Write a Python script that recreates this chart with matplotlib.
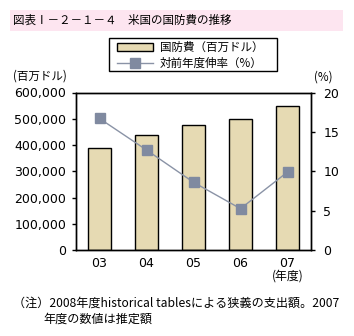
import matplotlib
matplotlib.use("Agg")
import matplotlib.pyplot as plt
from matplotlib.patches import Rectangle
from matplotlib.lines import Line2D

plt.rcParams['font.family'] = ['Noto Sans CJK JP', 'DejaVu Sans']

# Data
years = ["03", "04", "05", "06", "07"]
defense = [388000, 438000, 477000, 499000, 549000]
growth = [16.7, 12.7, 8.6, 5.25, 9.9]
left_ticks = [0, 100000, 200000, 300000, 400000, 500000, 600000]
left_labels = ["0", "100,000", "200,000", "300,000", "400,000", "500,000", "600,000"]
right_ticks = [0, 5, 10, 15, 20]
right_labels = ["0", "5", "10", "15", "20"]
legend_labels = ["国防費（百万ドル）", "対前年度伸率（%）"]

W, H = 354, 336
fig = plt.figure(figsize=(W / 100, H / 100), dpi=100)

def fx(x): return x / W
def fy(y): return 1 - y / H

bar_color = "#E6DAB3"
line_color = "#8A93A6"
marker_color = "#808AA0"
fs = 8.3
num_font = dict(family="DejaVu Sans", size=9)

# Title band
fig.patches.append(Rectangle((fx(10), fy(31)), fx(343) - fx(10), fy(10) - fy(31),
                             transform=fig.transFigure, facecolor="#FDE5F0",
                             edgecolor="none", zorder=0))
fig.text(fx(13), fy(20.5), "図表Ⅰ－２－１－４　米国の国防費の推移", fontsize=fs,
         va="center", ha="left")

ax = fig.add_axes([fx(76), fy(250), fx(311) - fx(76), fy(92.5) - fy(250)])
x = list(range(len(years)))
ax.bar(x, defense, width=0.51, color=bar_color, edgecolor="black",
       linewidth=1.0, zorder=2)
ax.set_xlim(-0.5, len(years) - 0.5)
ax.set_ylim(0, 600000)
ax.set_yticks(left_ticks)
ax.set_yticklabels(left_labels, fontdict=num_font)
ax.set_xticks(x)
ax.set_xticklabels(years, fontdict=num_font)
ax.tick_params(axis="x", length=0, pad=5)
ax.tick_params(axis="y", direction="out", length=3, width=1, pad=4)
for s in ax.spines.values():
    s.set_linewidth(1.0)
    s.set_color("black")

ax2 = ax.twinx()
ax2.plot(x, growth, color=line_color, linewidth=1.0, marker="s",
         markersize=6.5, markerfacecolor=marker_color,
         markeredgecolor=marker_color, zorder=3)
ax2.set_ylim(0, 20)
ax2.set_yticks(right_ticks)
ax2.set_yticklabels(right_labels, fontdict=num_font)
ax2.tick_params(axis="y", direction="out", length=3, width=1, pad=6)
for s in ax2.spines.values():
    s.set_linewidth(1.0)

# Axis unit labels
fig.text(fx(13), fy(76), "(百万ドル)", fontsize=fs, va="center", ha="left")
fig.text(fx(323), fy(77), "(%)", fontsize=fs, va="center", ha="center")
fig.text(fx(287.5), fy(276), "(年度)", fontsize=8.6, va="center", ha="center")

# Legend (manual frame, handles and labels)
fig.patches.append(Rectangle((fx(109), fy(71)), fx(277) - fx(109), fy(38) - fy(71),
                             transform=fig.transFigure, facecolor="white",
                             edgecolor="black", linewidth=1.0, zorder=5))
fig.patches.append(Rectangle((fx(117), fy(51)), fx(153) - fx(117), fy(43) - fy(51),
                             transform=fig.transFigure, facecolor=bar_color,
                             edgecolor="black", linewidth=1.0, zorder=6))
fig.lines.append(Line2D([fx(117), fx(153)], [fy(63), fy(63)], transform=fig.transFigure,
                        color=line_color, linewidth=1.0, zorder=6))
fig.lines.append(Line2D([fx(135)], [fy(63)], transform=fig.transFigure, marker="s",
                        markersize=6.5, color=marker_color, linestyle="none", zorder=7))
fig.text(fx(160), fy(47), legend_labels[0], fontsize=fs, va="center", ha="left", zorder=7)
fig.text(fx(160), fy(63), legend_labels[1], fontsize=fs, va="center", ha="left", zorder=7)

# Note
fig.text(fx(13), fy(303), "（注）2008年度historical tablesによる狭義の支出額。2007",
         fontsize=8.7, va="center", ha="left")
fig.text(fx(43), fy(319), "年度の数値は推定額", fontsize=8.7, va="center", ha="left")

fig.savefig("out.png", dpi=100)
